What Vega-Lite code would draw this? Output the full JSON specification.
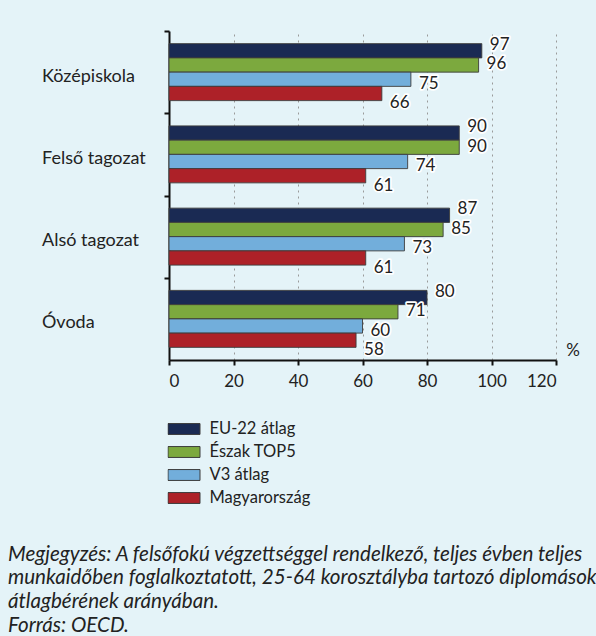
{
  "$schema": "https://vega.github.io/schema/vega-lite/v6.json",
  "width": 387,
  "height": 329,
  "autosize": {"type": "none"},
  "padding": {"left": 169, "top": 31, "right": 40, "bottom": 276},
  "background": "#e4f3f8",
  "config": {
    "font": "Lato",
    "view": {"stroke": null},
    "text": {"font": "Lato"}
  },
  "title": {
    "text": ["Megjegyzés: A felsőfokú végzettséggel rendelkező, teljes évben teljes", "munkaidőben foglalkoztatott, 25-64 korosztályba tartozó diplomások", "átlagbérének arányában."],
    "subtitle": "Forrás: OECD.",
    "orient": "bottom",
    "anchor": "start",
    "frame": "group",
    "dx": -161,
    "offset": 35,
    "font": "Lato",
    "fontSize": 20.6,
    "fontStyle": "italic",
    "fontWeight": "normal",
    "color": "#222222",
    "lineHeight": 23.5,
    "subtitleFont": "Lato",
    "subtitleFontSize": 20.6,
    "subtitleFontStyle": "italic",
    "subtitleColor": "#222222",
    "subtitlePadding": 4
  },
  "data": {
    "values": [
      {"cat": "Középiskola", "series": "EU-22 átlag", "value": 97},
      {"cat": "Középiskola", "series": "Észak TOP5", "value": 96},
      {"cat": "Középiskola", "series": "V3 átlag", "value": 75},
      {"cat": "Középiskola", "series": "Magyarország", "value": 66},
      {"cat": "Felső tagozat", "series": "EU-22 átlag", "value": 90},
      {"cat": "Felső tagozat", "series": "Észak TOP5", "value": 90},
      {"cat": "Felső tagozat", "series": "V3 átlag", "value": 74},
      {"cat": "Felső tagozat", "series": "Magyarország", "value": 61},
      {"cat": "Alsó tagozat", "series": "EU-22 átlag", "value": 87},
      {"cat": "Alsó tagozat", "series": "Észak TOP5", "value": 85},
      {"cat": "Alsó tagozat", "series": "V3 átlag", "value": 73},
      {"cat": "Alsó tagozat", "series": "Magyarország", "value": 61},
      {"cat": "Óvoda", "series": "EU-22 átlag", "value": 80},
      {"cat": "Óvoda", "series": "Észak TOP5", "value": 71},
      {"cat": "Óvoda", "series": "V3 átlag", "value": 60},
      {"cat": "Óvoda", "series": "Magyarország", "value": 58}
    ]
  },
  "encoding": {
    "y": {
      "field": "cat",
      "type": "nominal",
      "sort": ["Középiskola", "Felső tagozat", "Alsó tagozat", "Óvoda"],
      "scale": {"paddingInner": 0, "paddingOuter": 0},
      "axis": {
        "title": null,
        "domainColor": "#111111",
        "domainWidth": 2,
        "tickColor": "#111111",
        "tickWidth": 2,
        "tickSize": 5,
        "tickOffset": -41.1,
        "labelOffset": 45,
        "labelAlign": "left",
        "labelBaseline": "middle",
        "labelPadding": 122.5,
        "labelFont": "Lato",
        "labelFontSize": 18,
        "labelColor": "#222222",
        "labelLimit": 200
      }
    },
    "x": {
      "field": "value",
      "type": "quantitative",
      "scale": {"domain": [0, 120], "nice": false, "zero": true},
      "axis": {
        "values": [0, 20, 40, 60, 80, 100, 120],
        "title": "%",
        "titleX": 403.5,
        "titleY": -10,
        "titleAlign": "center",
        "titleBaseline": "middle",
        "titleFont": "Lato",
        "titleFontSize": 17,
        "titleFontWeight": "normal",
        "titleColor": "#222222",
        "domainColor": "#111111",
        "domainWidth": 2,
        "tickColor": "#111111",
        "tickWidth": 2,
        "tickSize": 5,
        "labelFont": "Lato",
        "labelFontSize": 17,
        "labelColor": "#222222",
        "labelPadding": 8,
        "grid": true,
        "gridColor": "#9a9a9a",
        "gridDash": [2, 4],
        "gridWidth": 1
      }
    }
  },
  "layer": [
    {
      "mark": {"type": "bar", "stroke": "#3c3c3c", "strokeWidth": 1, "strokeOpacity": 0.9},
      "encoding": {
        "yOffset": {
          "field": "series",
          "type": "nominal",
          "sort": ["EU-22 átlag", "Észak TOP5", "V3 átlag", "Magyarország"],
          "scale": {"paddingInner": 0, "paddingOuter": 0.886}
        },
        "color": {
          "field": "series",
          "type": "nominal",
          "sort": ["EU-22 átlag", "Észak TOP5", "V3 átlag", "Magyarország"],
          "scale": {
            "domain": ["EU-22 átlag", "Észak TOP5", "V3 átlag", "Magyarország"],
            "range": ["#1a2a53", "#7ca93e", "#72aedb", "#ad2128"]
          },
          "legend": {
            "title": null,
            "orient": "none",
            "legendX": -1.5,
            "legendY": 386.75,
            "direction": "vertical",
            "padding": 0,
            "symbolType": "M-1,-0.34H1V0.34H-1Z",
            "symbolSize": 1024,
            "symbolStrokeColor": "#3c3c3c",
            "symbolStrokeWidth": 1,
            "symbolOpacity": 1,
            "clipHeight": 22.5,
            "rowPadding": 0,
            "labelOffset": 9,
            "labelFont": "Lato",
            "labelFontSize": 16.5,
            "labelColor": "#222222"
          }
        }
      }
    },
    {
      "mark": {"type": "text", "align": "left", "baseline": "middle", "dx": 8, "dy": 2, "fontSize": 17, "stroke": "#ffffff", "strokeWidth": 3.5, "strokeJoin": "round", "fill": "#ffffff"},
      "encoding": {
        "yOffset": {
          "field": "series",
          "type": "nominal",
          "sort": ["EU-22 átlag", "Észak TOP5", "V3 átlag", "Magyarország"],
          "scale": {"paddingInner": 0, "paddingOuter": 0.61}
        },
        "text": {"field": "value", "type": "quantitative"}
      }
    },
    {
      "mark": {"type": "text", "align": "left", "baseline": "middle", "dx": 8, "dy": 2, "fontSize": 17, "fill": "#222222"},
      "encoding": {
        "yOffset": {
          "field": "series",
          "type": "nominal",
          "sort": ["EU-22 átlag", "Észak TOP5", "V3 átlag", "Magyarország"],
          "scale": {"paddingInner": 0, "paddingOuter": 0.61}
        },
        "text": {"field": "value", "type": "quantitative"}
      }
    }
  ],
  "resolve": {"scale": {"yOffset": "independent"}}
}
